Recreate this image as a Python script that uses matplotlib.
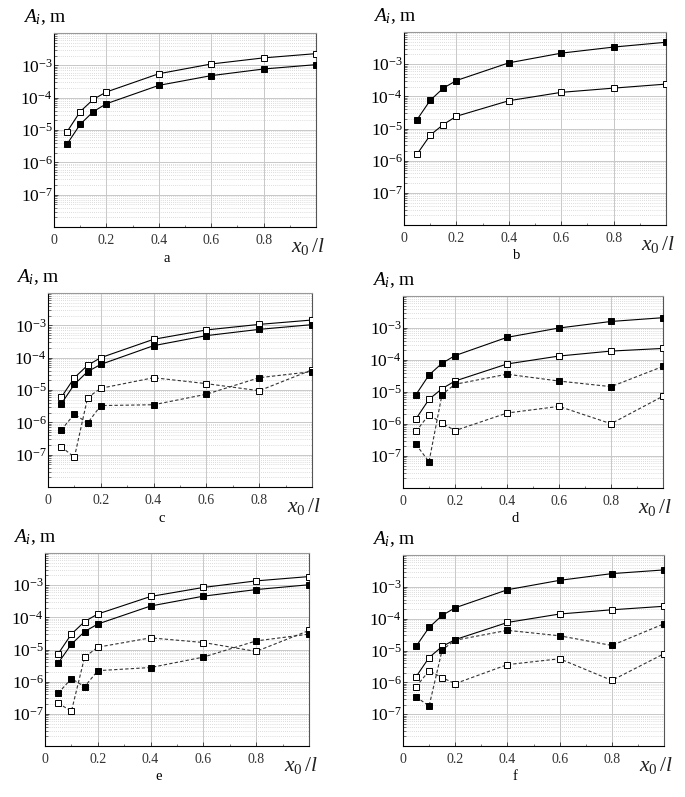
import matplotlib
matplotlib.use('Agg')
import matplotlib.pyplot as plt
from matplotlib.ticker import LogLocator, MultipleLocator, NullFormatter, FixedLocator

plt.rcParams['font.family'] = 'Liberation Serif'
plt.rcParams['mathtext.fontset'] = 'custom'
plt.rcParams['mathtext.rm'] = 'Liberation Serif'
plt.rcParams['mathtext.it'] = 'Liberation Serif:italic'

# x0/l positions
x0 = [0.05, 0.1, 0.15, 0.2, 0.4, 0.6, 0.8, 1.0]

# a
a_open = [8.9e-6, 3.7e-5, 8.9e-5, 1.5e-4, 5.5e-4, 1.1e-3, 1.7e-3, 2.3e-3]
a_fill = [3.7e-6, 1.5e-5, 3.7e-5, 6.5e-5, 2.4e-4, 4.8e-4, 7.7e-4, 1.05e-3]
# b
b_fill = [1.9e-5, 7.5e-5, 1.8e-4, 3.1e-4, 1.1e-3, 2.2e-3, 3.4e-3, 4.8e-3]
b_open = [1.6e-6, 6.2e-6, 1.33e-5, 2.4e-5, 7.3e-5, 1.33e-4, 1.8e-4, 2.4e-4]
# c
c_open = [5.9e-6, 2.4e-5, 5.8e-5, 1.0e-4, 3.7e-4, 7.2e-4, 1.07e-3, 1.46e-3]
c_fill = [3.7e-6, 1.5e-5, 3.7e-5, 6.2e-5, 2.35e-4, 4.8e-4, 7.5e-4, 1.05e-3]
c_open_d = [1.76e-7, 8.3e-8, 5.8e-6, 1.13e-5, 2.4e-5, 1.57e-5, 9.5e-6, 4.2e-5]
c_fill_d = [5.8e-7, 1.8e-6, 9.5e-7, 3.3e-6, 3.5e-6, 7.4e-6, 2.4e-5, 3.7e-5]
# d
d_fill = [8.3e-6, 3.4e-5, 7.9e-5, 1.37e-4, 5.1e-4, 1.0e-3, 1.6e-3, 2.1e-3]
d_open = [1.45e-6, 5.9e-6, 1.27e-5, 2.2e-5, 7.5e-5, 1.33e-4, 1.9e-4, 2.3e-4]
d_fill_d = [2.3e-7, 6.6e-8, 8.3e-6, 1.74e-5, 3.6e-5, 2.2e-5, 1.47e-5, 6.3e-5]
d_open_d = [5.9e-7, 1.96e-6, 1.07e-6, 6.2e-7, 2.2e-6, 3.55e-6, 1.02e-6, 7.4e-6]
# e
e_open = [7.4e-6, 3.0e-5, 7.4e-5, 1.27e-4, 4.45e-4, 8.5e-4, 1.36e-3, 1.85e-3]
e_fill = [3.8e-6, 1.46e-5, 3.6e-5, 6.2e-5, 2.25e-4, 4.55e-4, 7.3e-4, 1.03e-3]
e_open_d = [2.15e-7, 1.2e-7, 5.8e-6, 1.18e-5, 2.3e-5, 1.65e-5, 8.7e-6, 3.9e-5]
e_fill_d = [4.4e-7, 1.25e-6, 7e-7, 2.2e-6, 2.75e-6, 5.8e-6, 1.85e-5, 3.0e-5]
# f
f_fill = [1.35e-5, 5.3e-5, 1.27e-4, 2.2e-4, 8.1e-4, 1.6e-3, 2.6e-3, 3.4e-3]
f_open = [1.5e-6, 6e-6, 1.34e-5, 2.2e-5, 7.6e-5, 1.4e-4, 1.9e-4, 2.45e-4]
f_fill_d = [3.5e-7, 1.8e-7, 1.05e-5, 2.1e-5, 4.3e-5, 2.9e-5, 1.44e-5, 6.9e-5]
f_open_d = [7.3e-7, 2.3e-6, 1.4e-6, 9.1e-7, 3.6e-6, 5.5e-6, 1.15e-6, 7.9e-6]

W, H = 685, 797
fig = plt.figure(figsize=(W / 100, H / 100), dpi=100)

def add_ax(left, right, top, bottom):
    return fig.add_axes([left / W, 1 - bottom / H, (right - left) / W, (bottom - top) / H])

def line(ax, y, filled, dashed):
    ls = (0, (3, 2)) if dashed else '-'
    col = '#333333' if dashed else 'black'
    ax.plot(x0, y, linestyle=ls, color=col, lw=0.8, marker='s', ms=5,
            mfc='black' if filled else 'white', mec='black', mew=0.7,
            zorder=3, clip_on=True)

def panel(ax, letter, series):
    for y, filled, dashed in series:
        line(ax, y, filled, dashed)
    ax.set_yscale('log')
    ax.set_xlim(0, 1)
    ax.set_ylim(1e-8, 1e-2)
    ax.yaxis.set_major_locator(FixedLocator([1e-7, 1e-6, 1e-5, 1e-4, 1e-3]))
    ax.set_yticklabels([r'$\mathregular{10^{-%d}}$' % k for k in [7, 6, 5, 4, 3]])
    ax.yaxis.set_minor_locator(LogLocator(base=10, subs=range(2, 10), numticks=20))
    ax.yaxis.set_minor_formatter(NullFormatter())
    ax.set_xticks([0, 0.2, 0.4, 0.6, 0.8])
    ax.set_xticklabels(['0', '0.2', '0.4', '0.6', '0.8'])
    ax.xaxis.set_minor_locator(MultipleLocator(0.1))
    ax.tick_params(which='both', direction='in', color='#444444')
    ax.tick_params(which='major', length=3, width=0.7)
    ax.tick_params(which='minor', length=1.8, width=0.5)
    ax.tick_params(axis='y', labelsize=12.5, pad=1)
    ax.tick_params(axis='x', labelsize=10, pad=5, labelcolor='#333333')
    ax.grid(True, which='major', color='#c8c8c8', lw=0.7)
    ax.grid(True, which='minor', axis='y', color='#d0d0d0', lw=0.6, linestyle=(0, (1, 1.5)))
    ax.set_axisbelow(True)
    ax.spines['top'].set_color('#999999')
    ax.spines['right'].set_color('#555555')
    for s in ['left', 'bottom']:
        ax.spines[s].set_color('black')
    for s in ax.spines.values():
        s.set_linewidth(0.8)
    ax.text(-0.12, 1.03, r'$A_i$, m', transform=ax.transAxes, fontsize=14,
            ha='left', va='bottom')
    ax.text(0.905, -0.045, r'$x_0\,/l$', transform=ax.transAxes, fontsize=15.5,
            ha='left', va='top', color='#222222')
    ax.text(0.43, -0.16, letter, transform=ax.transAxes, fontsize=10.5,
            ha='center', va='center')

ax_a = add_ax(54, 316, 33, 227)
panel(ax_a, 'a', [(a_open, False, False), (a_fill, True, False)])

ax_b = add_ax(404, 666, 32, 225)
panel(ax_b, 'b', [(b_fill, True, False), (b_open, False, False)])

ax_c = add_ax(48, 312, 293, 487)
panel(ax_c, 'c', [(c_open, False, False), (c_fill, True, False),
                  (c_open_d, False, True), (c_fill_d, True, True)])

ax_d = add_ax(403, 663, 296, 488)
panel(ax_d, 'd', [(d_fill, True, False), (d_open, False, False),
                  (d_fill_d, True, True), (d_open_d, False, True)])

ax_e = add_ax(45, 309, 553, 746)
panel(ax_e, 'e', [(e_open, False, False), (e_fill, True, False),
                  (e_open_d, False, True), (e_fill_d, True, True)])

ax_f = add_ax(403, 664, 555, 746)
panel(ax_f, 'f', [(f_fill, True, False), (f_open, False, False),
                  (f_fill_d, True, True), (f_open_d, False, True)])

fig.savefig('out.png', dpi=100, facecolor='white')
